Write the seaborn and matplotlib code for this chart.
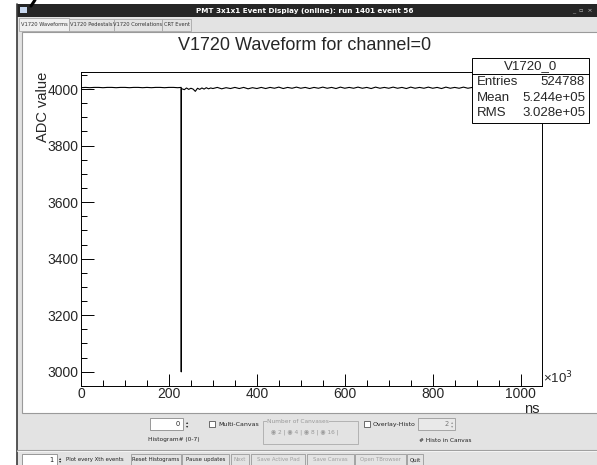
import matplotlib
matplotlib.use("Agg")
import matplotlib.pyplot as plt
from matplotlib.patches import Rectangle
from matplotlib.ticker import MultipleLocator
import seaborn as sns
import pandas as pd

# ---------------- data ----------------
title = "V1720 Waveform for channel=0"
window_title = "PMT 3x1x1 Event Display (online): run 1401 event 56"
tabs = ["V1720 Waveforms", "V1720 Pedestals", "V1720 Correlations", "CRT Event"]
x_label = "ns"
y_label = "ADC value"
stats_name = "V1720_0"
stats_rows = [("Entries", "524788"), ("Mean", "5.244e+05"), ("RMS", "3.028e+05")]

# sample times in units of 10^3 ns, and ADC values
time_pre = [0, 10, 20, 30, 40, 50, 60, 70, 80, 90, 100, 110, 120, 130, 140, 150,
            160, 170, 180, 190, 200, 210, 220, 228]
adc_pre = [4005, 4006, 4005, 4006, 4006, 4005, 4006, 4006, 4005, 4006, 4006, 4005,
           4006, 4006, 4005, 4006, 4005, 4006, 4006, 4005, 4006, 4006, 4005, 4006]
time_dip = [228, 228]
adc_dip = [3000, 4002]
time_post = [235, 240, 245, 250, 255, 260, 265, 270, 275, 280, 285, 290, 295, 300,
             310, 320, 330, 340, 350, 360, 370,
             380, 390, 400, 410, 420, 430, 440, 450, 460, 470, 480, 490, 500, 510,
             520, 530, 540, 550, 560, 570, 580, 590, 600, 610, 620, 630, 640, 650,
             660, 670, 680, 690, 700, 710, 720, 730, 740, 750, 760, 770, 780, 790,
             800, 810, 820, 830, 840, 850, 860, 870, 880, 890, 900, 910, 920, 930,
             940, 950, 960, 970, 980, 990, 1000, 1010, 1020, 1030, 1040]
adc_post = [3998, 4004, 3999, 4003, 4000, 3992, 4003, 3999, 4004, 4000, 4005, 4001,
            4004, 4002,
            4006, 4001, 4005, 4002, 4006, 4002, 4006, 4001, 4005, 4002, 4006, 4002,
            4006, 4003, 4007, 4002, 4006, 4003, 4007, 4003, 4006, 4002, 4006, 4003,
            4007, 4003, 4006, 4002, 4007, 4003, 4006, 4003, 4007, 4003, 4006, 4002,
            4007, 4003, 4006, 4003, 4007, 4003, 4006, 4002, 4007, 4003, 4006, 4003,
            4007, 4003, 4006, 4002, 4007, 4003, 4006, 4003, 4007, 4003, 4006, 4002,
            4007, 4003, 4006, 4003, 4007, 4003, 4006, 4002, 4007, 4003, 4006, 4003,
            4007, 4004]
x_range = (0, 1048.576)
y_range = (2949.5, 4060.5)

df = pd.DataFrame({"t": time_pre + time_dip + time_post,
                   "adc": adc_pre + adc_dip + adc_post})

# ---------------- figure ----------------
sns.set_theme(style="white")
plt.rcParams["font.family"] = ["Liberation Sans", "DejaVu Sans"]
W, H = 597, 465
fig = plt.figure(figsize=(W / 100, H / 100), dpi=100)
fig.patch.set_facecolor("white")

bg = fig.add_axes([0, 0, 1, 1])
bg.set_xlim(0, W)
bg.set_ylim(H, 0)
bg.axis("off")

GUI = ["DejaVu Sans"]


def rect(ax, x, y, w, h, fc, ec="none", lw=0.8, z=1):
    ax.add_patch(Rectangle((x, y), w, h, facecolor=fc, edgecolor=ec, lw=lw, zorder=z))


def txt(ax, x, y, s, size=4.6, color="#222222", ha="left", va="center", **kw):
    ax.text(x, y, s, fontsize=size, color=color, ha=ha, va=va, family=GUI, zorder=5, **kw)


# window body
rect(bg, 17, 4, 580, 461, "#e3e3e3")
bg.plot([17, 17], [4, 465], color="#3a3a3a", lw=1.2, zorder=3)
# stray slash at the very top
bg.plot([31, 35], [6, 0], color="black", lw=2.2, zorder=3)
# title bar
rect(bg, 17, 4, 580, 13, "#262626", z=2)
rect(bg, 20, 7, 7, 6, "#c8d8f0", z=3)
txt(bg, 305, 10.5, window_title, size=5.2, color="white", ha="center", weight="bold")
txt(bg, 582, 10.5, "_  \u25ab  ×", size=4.5, color="#bbbbbb", ha="center")

# tabs
tab_x = [(19, 69), (69, 114), (114, 162), (162, 191)]
for (a, b), name in zip(tab_x, tabs):
    active = name == tabs[0]
    rect(bg, a, 18 if active else 19, b - a, 13 if active else 12,
         "#f0f0f0" if active else "#e3e3e3", ec="#a8a8a8", lw=0.6, z=2)
    txt(bg, (a + b) / 2, 24.5, name, size=3.7, color="#333333", ha="center")

# canvas
rect(bg, 22, 32, 580, 381, "white", ec="#9a9a9a", lw=0.8, z=2)

# bottom control panel
bg.plot([17, 597], [450, 450], color="#a0a0a0", lw=0.8, zorder=3)
bg.plot([17, 597], [451, 451], color="#f8f8f8", lw=0.6, zorder=3)

rect(bg, 150, 418, 33, 12, "white", ec="#8a8a8a", lw=0.6, z=3)
txt(bg, 180, 424, "0", size=4.8, ha="right")
txt(bg, 187, 424, "\u25b4\n\u25be", size=3.2, ha="center", linespacing=0.7)
txt(bg, 174, 439, "Histogram# (0-7)", size=4.2, ha="center")

rect(bg, 209, 421, 6, 6, "white", ec="#555555", lw=0.6, z=3)
txt(bg, 218, 424, "Multi-Canvas", size=4.5)

rect(bg, 263, 421, 95, 23, "none", ec="#aaaaaa", lw=0.6, z=3)
txt(bg, 267, 421, "Number of Canvases", size=4.2, color="#999999",
    bbox=dict(fc="#e3e3e3", ec="none", pad=0.3))
txt(bg, 271, 432, "\u25c9 2 | \u25c9 4 | \u25c9 8 | \u25c9 16 |", size=4.2, color="#999999")

rect(bg, 364, 421, 6, 6, "white", ec="#555555", lw=0.6, z=3)
txt(bg, 373, 424, "Overlay-Histo", size=4.5)

rect(bg, 418, 418, 37, 12, "#e9e9e9", ec="#9a9a9a", lw=0.6, z=3)
txt(bg, 449, 424, "2", size=4.8, color="#777777", ha="right")
txt(bg, 452, 424, "\u25b4\n\u25be", size=3.2, color="#999999", ha="center", linespacing=0.7)
txt(bg, 445, 440, "# Histo in Canvas", size=4.2, ha="center")

rect(bg, 22, 454, 35, 11, "white", ec="#8a8a8a", lw=0.6, z=3)
txt(bg, 53, 459.5, "1", size=4.8, ha="right")
txt(bg, 60, 459.5, "\u25b4\n\u25be", size=3.2, ha="center", linespacing=0.7)
txt(bg, 66, 459.5, "Plot every Xth events", size=3.9)
buttons = [("Reset Histograms", 131, 181, True), ("Pause updates", 182, 229, True),
           ("Next", 231, 249, False), ("Save Active Pad", 251, 305, False),
           ("Save Canvas", 307, 354, False), ("Open TBrowser", 355, 406, False),
           ("Quit", 407, 423, True)]
for name, a, b, enabled in buttons:
    rect(bg, a, 454, b - a, 11, "#e3e3e3", ec="#8a8a8a", lw=0.5, z=3)
    txt(bg, (a + b) / 2, 459.5, name, size=3.9,
        color="#222222" if enabled else "#a0a0a0", ha="center")

# ---------------- main plot ----------------
L, R, T, B = 81, 542, 72, 386
ax = fig.add_axes([L / W, 1 - B / H, (R - L) / W, (B - T) / H])
sns.lineplot(data=df, x="t", y="adc", ax=ax, color="black", lw=0.8,
             estimator=None, sort=False)
ax.set_xlim(*x_range)
ax.set_ylim(*y_range)
ax.set_xlabel("")
ax.set_ylabel("")
ax.set_facecolor("white")
for s in ax.spines.values():
    s.set_color("black")
    s.set_linewidth(0.7)
ax.xaxis.set_major_locator(MultipleLocator(200))
ax.xaxis.set_minor_locator(MultipleLocator(50))
ax.yaxis.set_major_locator(MultipleLocator(200))
ax.yaxis.set_minor_locator(MultipleLocator(50))
ax.tick_params(which="major", direction="in", length=9, width=0.7, color="black",
               labelsize=10, pad=0.5, bottom=True, left=True, top=False, right=False)
ax.tick_params(axis="y", which="major", pad=2)
ax.tick_params(which="minor", direction="in", length=4.5, width=0.7, color="black",
               bottom=True, left=True, top=False, right=False)
for lab in ax.get_xticklabels() + ax.get_yticklabels():
    lab.set_family(["Liberation Sans"])

over = fig.add_axes([0, 0, 1, 1])
over.set_xlim(0, W)
over.set_ylim(H, 0)
over.axis("off")
over.patch.set_alpha(0)

over.text(305, 46, title, fontsize=13, ha="center", va="center", family=["Liberation Sans"])
over.text(43, T, y_label, fontsize=10.5, rotation=90, ha="center", va="top",
          family=["Liberation Sans"])
over.text(R - 2, 409, x_label, fontsize=10.5, ha="right", va="center", family=["Liberation Sans"])
over.text(543, 378, "×10$^{3}$", fontsize=9.5, ha="left", va="center", family=["Liberation Sans"])

# stats box
sx0, sx1, sy0, sy1 = 472, 589, 58, 123
rect(over, sx0, sy0, sx1 - sx0, sy1 - sy0, "white", ec="black", lw=0.7, z=4)
over.plot([sx0, sx1], [74, 74], color="black", lw=0.7, zorder=5)
over.text((sx0 + sx1) / 2, 66, stats_name, fontsize=9.5, ha="center", va="center",
          family=["Liberation Sans"], zorder=6)
for (k, v), yy in zip(stats_rows, [82, 98, 113]):
    over.text(477, yy, k, fontsize=9.5, ha="left", va="center", family=["Liberation Sans"], zorder=6)
    over.text(585, yy, v, fontsize=9.5, ha="right", va="center", family=["Liberation Sans"], zorder=6)

fig.savefig("out.png", dpi=100)
